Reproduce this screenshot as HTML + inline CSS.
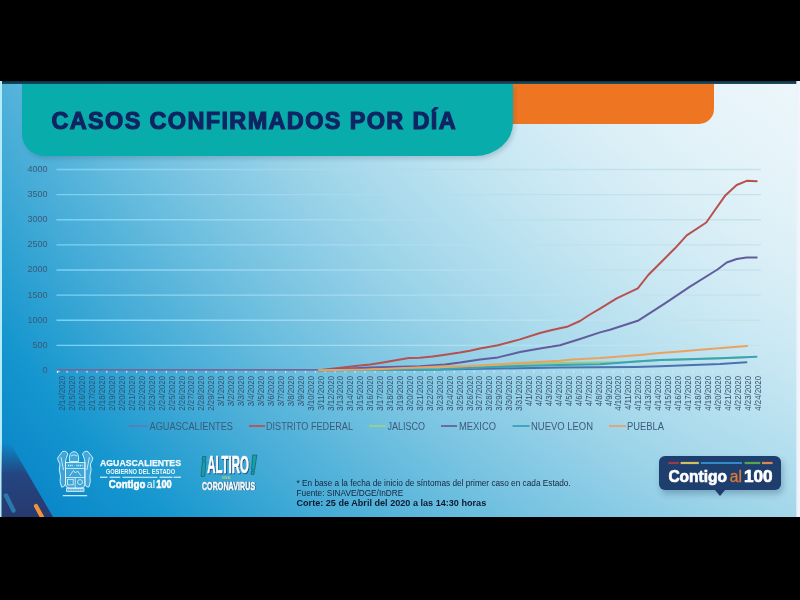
<!DOCTYPE html>
<html><head><meta charset="utf-8">
<style>
html,body{margin:0;padding:0;background:#000;width:800px;height:600px;overflow:hidden}
body{position:relative;font-family:"Liberation Sans",sans-serif}
.slide{position:absolute;left:0;top:81px;width:800px;height:436px;overflow:hidden;filter:blur(0.35px);
background:radial-gradient(circle at 1350px -781px,rgb(237,246,251) 950px,rgb(233,245,250) 1000px,rgb(228,243,249) 1050px,rgb(221,240,247) 1100px,rgb(212,236,245) 1150px,rgb(201,232,243) 1200px,rgb(188,226,240) 1250px,rgb(174,220,237) 1300px,rgb(159,213,233) 1350px,rgb(142,205,230) 1400px,rgb(124,197,226) 1450px,rgb(105,189,222) 1500px,rgb(85,179,218) 1550px,rgb(65,170,214) 1600px,rgb(43,160,210) 1650px,rgb(21,150,207) 1700px,rgb(0,121,195) 1850px)}
.topband{position:absolute;left:0;top:0;width:800px;height:3px;background:linear-gradient(to bottom,rgba(10,40,54,.97),rgba(12,70,95,.93))}
.ledge{position:absolute;left:0;top:0;width:1.5px;height:436px;background:#b4ecfa}
.redge{position:absolute;left:796px;top:0;width:4px;height:436px;background:linear-gradient(to right,rgba(238,243,251,.5),#eef3fb 40%,#f3f5fc)}
.orange{position:absolute;left:470px;top:3px;width:244px;height:40px;background:#ee7622;border-bottom-right-radius:15px}
.teal{position:absolute;left:21.5px;top:3px;width:491px;height:71.5px;background:#08adab;border-bottom-left-radius:22px;border-bottom-right-radius:38px 33px;box-shadow:2px 3px 4px rgba(40,60,90,.18)}
.title{position:absolute;left:51.4px;top:28.9px;font-weight:bold;font-size:23.5px;letter-spacing:1.34px;-webkit-text-stroke:1.1px #0f2462;color:#0f2462;white-space:nowrap;line-height:1}
svg text{font-family:"Liberation Sans",sans-serif}
.g{stroke:url(#gl);stroke-width:1.3}
.yl{font-size:9px;fill:#3a5a78;text-anchor:end}
.xl{font-size:8.5px;fill:#34506c;text-anchor:end}
.tk{fill:#cfeefa}
.tk2{fill:none;stroke:#e8f8ff;stroke-width:1.2}
.s{fill:none;stroke-width:2;stroke-linejoin:round;stroke-linecap:round}
.lg{font-size:10px;fill:#3d5a78}
.fn{position:absolute;left:296.5px;font-size:8.25px;color:#15253e;white-space:nowrap;line-height:1}
.fnb{font-weight:bold;font-size:9.1px;color:#0c1a30}
.badge{position:absolute;left:658.8px;top:375px;width:122.5px;height:34.3px;background:#1e3e6e;border-radius:6px;box-shadow:2px 4px 6px rgba(30,60,100,.3)}
</style></head><body>
<div class="slide">
  <div class="orange"></div>
  <div class="teal"></div>
  <div class="title">CASOS CONFIRMADOS POR DÍA</div>
  <div class="topband"></div>
  <div class="ledge"></div>
  <div class="redge"></div>
  <svg width="800" height="436" style="position:absolute;left:0;top:0" viewBox="0 81 800 436">
  <defs>
    <linearGradient id="gl" gradientUnits="userSpaceOnUse" x1="57" y1="0" x2="761" y2="0">
      <stop offset="0.000" stop-color="rgb(121,208,246)"/>
      <stop offset="0.132" stop-color="rgb(138,213,244)"/>
      <stop offset="0.359" stop-color="rgb(161,217,239)"/>
      <stop offset="0.615" stop-color="rgb(181,224,239)"/>
      <stop offset="0.800" stop-color="rgb(193,226,237)"/>
      <stop offset="1.000" stop-color="rgb(200,225,235)"/>
    </linearGradient>
    <linearGradient id="nv" x1="0" y1="0" x2="0" y2="1">
      <stop offset="0" stop-color="#25407a" stop-opacity="0"/>
      <stop offset="0.2" stop-color="#25407a" stop-opacity="0.45"/>
      <stop offset="0.42" stop-color="#26407a" stop-opacity="0.92"/>
      <stop offset="1" stop-color="#27396f" stop-opacity="1"/>
    </linearGradient>
  </defs>
<line x1="56.5" x2="761" y1="345.38" y2="345.38" class="g"/>
<line x1="56.5" x2="761" y1="320.25" y2="320.25" class="g"/>
<line x1="56.5" x2="761" y1="295.12" y2="295.12" class="g"/>
<line x1="56.5" x2="761" y1="270.00" y2="270.00" class="g"/>
<line x1="56.5" x2="761" y1="244.88" y2="244.88" class="g"/>
<line x1="56.5" x2="761" y1="219.75" y2="219.75" class="g"/>
<line x1="56.5" x2="761" y1="194.62" y2="194.62" class="g"/>
<line x1="56.5" x2="761" y1="169.50" y2="169.50" class="g"/>
<text x="47.5" y="372.90" class="yl">0</text>
<text x="47.5" y="347.77" class="yl">500</text>
<text x="47.5" y="322.65" class="yl">1000</text>
<text x="47.5" y="297.52" class="yl">1500</text>
<text x="47.5" y="272.40" class="yl">2000</text>
<text x="47.5" y="247.28" class="yl">2500</text>
<text x="47.5" y="222.15" class="yl">3000</text>
<text x="47.5" y="197.03" class="yl">3500</text>
<text x="47.5" y="171.90" class="yl">4000</text>
<rect x="66.5" y="370.6" width="1.2" height="2" class="tk"/>
<rect x="76.5" y="370.6" width="1.2" height="2" class="tk"/>
<rect x="86.4" y="370.6" width="1.2" height="2" class="tk"/>
<rect x="96.3" y="370.6" width="1.2" height="2" class="tk"/>
<rect x="106.2" y="370.6" width="1.2" height="2" class="tk"/>
<rect x="116.2" y="370.6" width="1.2" height="2" class="tk"/>
<rect x="126.1" y="370.6" width="1.2" height="2" class="tk"/>
<rect x="136.0" y="370.6" width="1.2" height="2" class="tk"/>
<rect x="146.0" y="370.6" width="1.2" height="2" class="tk"/>
<rect x="155.9" y="370.6" width="1.2" height="2" class="tk"/>
<rect x="165.8" y="370.6" width="1.2" height="2" class="tk"/>
<rect x="175.8" y="370.6" width="1.2" height="2" class="tk"/>
<rect x="185.7" y="370.6" width="1.2" height="2" class="tk"/>
<rect x="195.6" y="370.6" width="1.2" height="2" class="tk"/>
<rect x="205.5" y="370.6" width="1.2" height="2" class="tk"/>
<rect x="215.5" y="370.6" width="1.2" height="2" class="tk"/>
<rect x="225.4" y="370.6" width="1.2" height="2" class="tk"/>
<rect x="235.3" y="370.6" width="1.2" height="2" class="tk"/>
<rect x="245.3" y="370.6" width="1.2" height="2" class="tk"/>
<rect x="255.2" y="370.6" width="1.2" height="2" class="tk"/>
<rect x="265.1" y="370.6" width="1.2" height="2" class="tk"/>
<rect x="275.1" y="370.6" width="1.2" height="2" class="tk"/>
<rect x="285.0" y="370.6" width="1.2" height="2" class="tk"/>
<rect x="294.9" y="370.6" width="1.2" height="2" class="tk"/>
<rect x="304.9" y="370.6" width="1.2" height="2" class="tk"/>
<rect x="314.8" y="370.6" width="1.2" height="2" class="tk"/>
<rect x="324.7" y="370.6" width="1.2" height="2" class="tk"/>
<rect x="334.6" y="370.6" width="1.2" height="2" class="tk"/>
<rect x="344.6" y="370.6" width="1.2" height="2" class="tk"/>
<rect x="354.5" y="370.6" width="1.2" height="2" class="tk"/>
<rect x="364.4" y="370.6" width="1.2" height="2" class="tk"/>
<rect x="374.4" y="370.6" width="1.2" height="2" class="tk"/>
<rect x="384.3" y="370.6" width="1.2" height="2" class="tk"/>
<rect x="394.2" y="370.6" width="1.2" height="2" class="tk"/>
<rect x="404.2" y="370.6" width="1.2" height="2" class="tk"/>
<rect x="414.1" y="370.6" width="1.2" height="2" class="tk"/>
<rect x="424.0" y="370.6" width="1.2" height="2" class="tk"/>
<rect x="433.9" y="370.6" width="1.2" height="2" class="tk"/>
<rect x="443.9" y="370.6" width="1.2" height="2" class="tk"/>
<rect x="453.8" y="370.6" width="1.2" height="2" class="tk"/>
<rect x="463.7" y="370.6" width="1.2" height="2" class="tk"/>
<rect x="473.7" y="370.6" width="1.2" height="2" class="tk"/>
<rect x="483.6" y="370.6" width="1.2" height="2" class="tk"/>
<rect x="493.5" y="370.6" width="1.2" height="2" class="tk"/>
<rect x="503.4" y="370.6" width="1.2" height="2" class="tk"/>
<rect x="513.4" y="370.6" width="1.2" height="2" class="tk"/>
<rect x="523.3" y="370.6" width="1.2" height="2" class="tk"/>
<rect x="533.2" y="370.6" width="1.2" height="2" class="tk"/>
<rect x="543.2" y="370.6" width="1.2" height="2" class="tk"/>
<rect x="553.1" y="370.6" width="1.2" height="2" class="tk"/>
<rect x="563.0" y="370.6" width="1.2" height="2" class="tk"/>
<rect x="573.0" y="370.6" width="1.2" height="2" class="tk"/>
<rect x="582.9" y="370.6" width="1.2" height="2" class="tk"/>
<rect x="592.8" y="370.6" width="1.2" height="2" class="tk"/>
<rect x="602.8" y="370.6" width="1.2" height="2" class="tk"/>
<rect x="612.7" y="370.6" width="1.2" height="2" class="tk"/>
<rect x="622.6" y="370.6" width="1.2" height="2" class="tk"/>
<rect x="632.5" y="370.6" width="1.2" height="2" class="tk"/>
<rect x="642.5" y="370.6" width="1.2" height="2" class="tk"/>
<rect x="652.4" y="370.6" width="1.2" height="2" class="tk"/>
<rect x="662.3" y="370.6" width="1.2" height="2" class="tk"/>
<rect x="672.3" y="370.6" width="1.2" height="2" class="tk"/>
<rect x="682.2" y="370.6" width="1.2" height="2" class="tk"/>
<rect x="692.1" y="370.6" width="1.2" height="2" class="tk"/>
<rect x="702.0" y="370.6" width="1.2" height="2" class="tk"/>
<rect x="712.0" y="370.6" width="1.2" height="2" class="tk"/>
<rect x="721.9" y="370.6" width="1.2" height="2" class="tk"/>
<rect x="731.8" y="370.6" width="1.2" height="2" class="tk"/>
<rect x="741.8" y="370.6" width="1.2" height="2" class="tk"/>
<rect x="751.7" y="370.6" width="1.2" height="2" class="tk"/>
<rect x="761.6" y="370.6" width="1.2" height="2" class="tk"/>
<path d="M57.5 373 V370.8 H60" class="tk2"/>
<line x1="57" x2="322" y1="369.9" y2="369.9" stroke="#74679a" stroke-width="1.6"/>
<polyline points="318.8,370.3 440.0,369.5 560.0,367.6 635.0,366.9 660.0,366.2 680.0,365.4 720.0,363.9 746.4,362.2" class="s" stroke="#4a72ad"/>
<polyline points="318.8,370.3 360.0,365.6 370.0,364.4 380.0,362.9 408.8,358.1 420.0,357.8 432.5,356.5 440.0,355.4 460.0,352.6 470.0,350.8 480.0,348.6 498.0,345.2 520.0,339.4 540.0,333.0 552.0,330.0 568.0,326.4 580.0,321.0 590.0,314.5 600.0,308.6 616.7,298.3 637.8,288.3 648.3,275.0 675.0,248.3 686.7,235.3 706.3,222.5 715.0,210.0 725.0,195.8 736.7,185.0 746.7,180.8 756.7,181.3" class="s" stroke="#b8504f"/>
<polyline points="318.8,370.3 400.0,369.2 470.0,367.8 520.0,364.3 560.0,363.1 600.0,362.6 622.5,362.2 640.0,361.3 660.0,360.1 680.0,359.6 720.0,358.3 745.0,357.3" class="s" stroke="#93cc86"/>
<polyline points="318.8,370.3 370.0,367.5 420.0,366.2 445.0,364.6 460.0,362.6 470.0,361.0 480.0,359.6 498.0,357.4 520.0,352.0 540.0,348.4 552.0,346.6 560.0,345.2 580.0,339.0 600.0,332.4 610.0,329.7 620.0,326.5 637.8,320.8 665.0,303.3 690.0,286.7 717.5,269.5 726.7,262.5 736.7,259.0 746.7,257.5 756.7,257.5" class="s" stroke="#625c9c"/>
<polyline points="318.8,370.3 440.0,369.2 520.0,366.0 560.0,365.0 600.0,364.2 640.0,361.2 660.0,360.0 680.0,359.5 720.0,358.2 745.0,357.2 756.5,356.8" class="s" stroke="#3aa4b5"/>
<polyline points="318.8,370.3 370.0,369.4 440.0,366.6 470.0,366.0 520.0,362.9 560.0,360.8 572.5,359.4 600.0,358.0 640.0,355.0 660.0,353.1 680.0,351.4 700.0,349.8 747.0,346.0" class="s" stroke="#eaa262"/>
<text transform="translate(65.40,376) rotate(-90)" class="xl" textLength="34.70" lengthAdjust="spacingAndGlyphs">2/14/2020</text>
<text transform="translate(75.33,376) rotate(-90)" class="xl" textLength="34.70" lengthAdjust="spacingAndGlyphs">2/15/2020</text>
<text transform="translate(85.26,376) rotate(-90)" class="xl" textLength="34.70" lengthAdjust="spacingAndGlyphs">2/16/2020</text>
<text transform="translate(95.19,376) rotate(-90)" class="xl" textLength="34.70" lengthAdjust="spacingAndGlyphs">2/17/2020</text>
<text transform="translate(105.12,376) rotate(-90)" class="xl" textLength="34.70" lengthAdjust="spacingAndGlyphs">2/18/2020</text>
<text transform="translate(115.05,376) rotate(-90)" class="xl" textLength="34.70" lengthAdjust="spacingAndGlyphs">2/19/2020</text>
<text transform="translate(124.98,376) rotate(-90)" class="xl" textLength="34.70" lengthAdjust="spacingAndGlyphs">2/20/2020</text>
<text transform="translate(134.91,376) rotate(-90)" class="xl" textLength="34.70" lengthAdjust="spacingAndGlyphs">2/21/2020</text>
<text transform="translate(144.84,376) rotate(-90)" class="xl" textLength="34.70" lengthAdjust="spacingAndGlyphs">2/22/2020</text>
<text transform="translate(154.77,376) rotate(-90)" class="xl" textLength="34.70" lengthAdjust="spacingAndGlyphs">2/23/2020</text>
<text transform="translate(164.70,376) rotate(-90)" class="xl" textLength="34.70" lengthAdjust="spacingAndGlyphs">2/24/2020</text>
<text transform="translate(174.63,376) rotate(-90)" class="xl" textLength="34.70" lengthAdjust="spacingAndGlyphs">2/25/2020</text>
<text transform="translate(184.56,376) rotate(-90)" class="xl" textLength="34.70" lengthAdjust="spacingAndGlyphs">2/26/2020</text>
<text transform="translate(194.49,376) rotate(-90)" class="xl" textLength="34.70" lengthAdjust="spacingAndGlyphs">2/27/2020</text>
<text transform="translate(204.42,376) rotate(-90)" class="xl" textLength="34.70" lengthAdjust="spacingAndGlyphs">2/28/2020</text>
<text transform="translate(214.35,376) rotate(-90)" class="xl" textLength="34.70" lengthAdjust="spacingAndGlyphs">2/29/2020</text>
<text transform="translate(224.28,376) rotate(-90)" class="xl" textLength="30.36" lengthAdjust="spacingAndGlyphs">3/1/2020</text>
<text transform="translate(234.21,376) rotate(-90)" class="xl" textLength="30.36" lengthAdjust="spacingAndGlyphs">3/2/2020</text>
<text transform="translate(244.14,376) rotate(-90)" class="xl" textLength="30.36" lengthAdjust="spacingAndGlyphs">3/3/2020</text>
<text transform="translate(254.07,376) rotate(-90)" class="xl" textLength="30.36" lengthAdjust="spacingAndGlyphs">3/4/2020</text>
<text transform="translate(264.00,376) rotate(-90)" class="xl" textLength="30.36" lengthAdjust="spacingAndGlyphs">3/5/2020</text>
<text transform="translate(273.93,376) rotate(-90)" class="xl" textLength="30.36" lengthAdjust="spacingAndGlyphs">3/6/2020</text>
<text transform="translate(283.86,376) rotate(-90)" class="xl" textLength="30.36" lengthAdjust="spacingAndGlyphs">3/7/2020</text>
<text transform="translate(293.79,376) rotate(-90)" class="xl" textLength="30.36" lengthAdjust="spacingAndGlyphs">3/8/2020</text>
<text transform="translate(303.72,376) rotate(-90)" class="xl" textLength="30.36" lengthAdjust="spacingAndGlyphs">3/9/2020</text>
<text transform="translate(313.65,376) rotate(-90)" class="xl" textLength="34.70" lengthAdjust="spacingAndGlyphs">3/10/2020</text>
<text transform="translate(323.58,376) rotate(-90)" class="xl" textLength="34.12" lengthAdjust="spacingAndGlyphs">3/11/2020</text>
<text transform="translate(333.51,376) rotate(-90)" class="xl" textLength="34.70" lengthAdjust="spacingAndGlyphs">3/12/2020</text>
<text transform="translate(343.44,376) rotate(-90)" class="xl" textLength="34.70" lengthAdjust="spacingAndGlyphs">3/13/2020</text>
<text transform="translate(353.37,376) rotate(-90)" class="xl" textLength="34.70" lengthAdjust="spacingAndGlyphs">3/14/2020</text>
<text transform="translate(363.30,376) rotate(-90)" class="xl" textLength="34.70" lengthAdjust="spacingAndGlyphs">3/15/2020</text>
<text transform="translate(373.23,376) rotate(-90)" class="xl" textLength="34.70" lengthAdjust="spacingAndGlyphs">3/16/2020</text>
<text transform="translate(383.16,376) rotate(-90)" class="xl" textLength="34.70" lengthAdjust="spacingAndGlyphs">3/17/2020</text>
<text transform="translate(393.09,376) rotate(-90)" class="xl" textLength="34.70" lengthAdjust="spacingAndGlyphs">3/18/2020</text>
<text transform="translate(403.02,376) rotate(-90)" class="xl" textLength="34.70" lengthAdjust="spacingAndGlyphs">3/19/2020</text>
<text transform="translate(412.95,376) rotate(-90)" class="xl" textLength="34.70" lengthAdjust="spacingAndGlyphs">3/20/2020</text>
<text transform="translate(422.88,376) rotate(-90)" class="xl" textLength="34.70" lengthAdjust="spacingAndGlyphs">3/21/2020</text>
<text transform="translate(432.81,376) rotate(-90)" class="xl" textLength="34.70" lengthAdjust="spacingAndGlyphs">3/22/2020</text>
<text transform="translate(442.74,376) rotate(-90)" class="xl" textLength="34.70" lengthAdjust="spacingAndGlyphs">3/23/2020</text>
<text transform="translate(452.67,376) rotate(-90)" class="xl" textLength="34.70" lengthAdjust="spacingAndGlyphs">3/24/2020</text>
<text transform="translate(462.60,376) rotate(-90)" class="xl" textLength="34.70" lengthAdjust="spacingAndGlyphs">3/25/2020</text>
<text transform="translate(472.53,376) rotate(-90)" class="xl" textLength="34.70" lengthAdjust="spacingAndGlyphs">3/26/2020</text>
<text transform="translate(482.46,376) rotate(-90)" class="xl" textLength="34.70" lengthAdjust="spacingAndGlyphs">3/27/2020</text>
<text transform="translate(492.39,376) rotate(-90)" class="xl" textLength="34.70" lengthAdjust="spacingAndGlyphs">3/28/2020</text>
<text transform="translate(502.32,376) rotate(-90)" class="xl" textLength="34.70" lengthAdjust="spacingAndGlyphs">3/29/2020</text>
<text transform="translate(512.25,376) rotate(-90)" class="xl" textLength="34.70" lengthAdjust="spacingAndGlyphs">3/30/2020</text>
<text transform="translate(522.18,376) rotate(-90)" class="xl" textLength="34.70" lengthAdjust="spacingAndGlyphs">3/31/2020</text>
<text transform="translate(532.11,376) rotate(-90)" class="xl" textLength="30.36" lengthAdjust="spacingAndGlyphs">4/1/2020</text>
<text transform="translate(542.04,376) rotate(-90)" class="xl" textLength="30.36" lengthAdjust="spacingAndGlyphs">4/2/2020</text>
<text transform="translate(551.97,376) rotate(-90)" class="xl" textLength="30.36" lengthAdjust="spacingAndGlyphs">4/3/2020</text>
<text transform="translate(561.90,376) rotate(-90)" class="xl" textLength="30.36" lengthAdjust="spacingAndGlyphs">4/4/2020</text>
<text transform="translate(571.83,376) rotate(-90)" class="xl" textLength="30.36" lengthAdjust="spacingAndGlyphs">4/5/2020</text>
<text transform="translate(581.76,376) rotate(-90)" class="xl" textLength="30.36" lengthAdjust="spacingAndGlyphs">4/6/2020</text>
<text transform="translate(591.69,376) rotate(-90)" class="xl" textLength="30.36" lengthAdjust="spacingAndGlyphs">4/7/2020</text>
<text transform="translate(601.62,376) rotate(-90)" class="xl" textLength="30.36" lengthAdjust="spacingAndGlyphs">4/8/2020</text>
<text transform="translate(611.55,376) rotate(-90)" class="xl" textLength="30.36" lengthAdjust="spacingAndGlyphs">4/9/2020</text>
<text transform="translate(621.48,376) rotate(-90)" class="xl" textLength="34.70" lengthAdjust="spacingAndGlyphs">4/10/2020</text>
<text transform="translate(631.41,376) rotate(-90)" class="xl" textLength="34.12" lengthAdjust="spacingAndGlyphs">4/11/2020</text>
<text transform="translate(641.34,376) rotate(-90)" class="xl" textLength="34.70" lengthAdjust="spacingAndGlyphs">4/12/2020</text>
<text transform="translate(651.27,376) rotate(-90)" class="xl" textLength="34.70" lengthAdjust="spacingAndGlyphs">4/13/2020</text>
<text transform="translate(661.20,376) rotate(-90)" class="xl" textLength="34.70" lengthAdjust="spacingAndGlyphs">4/14/2020</text>
<text transform="translate(671.13,376) rotate(-90)" class="xl" textLength="34.70" lengthAdjust="spacingAndGlyphs">4/15/2020</text>
<text transform="translate(681.06,376) rotate(-90)" class="xl" textLength="34.70" lengthAdjust="spacingAndGlyphs">4/16/2020</text>
<text transform="translate(690.99,376) rotate(-90)" class="xl" textLength="34.70" lengthAdjust="spacingAndGlyphs">4/17/2020</text>
<text transform="translate(700.92,376) rotate(-90)" class="xl" textLength="34.70" lengthAdjust="spacingAndGlyphs">4/18/2020</text>
<text transform="translate(710.85,376) rotate(-90)" class="xl" textLength="34.70" lengthAdjust="spacingAndGlyphs">4/19/2020</text>
<text transform="translate(720.78,376) rotate(-90)" class="xl" textLength="34.70" lengthAdjust="spacingAndGlyphs">4/20/2020</text>
<text transform="translate(730.71,376) rotate(-90)" class="xl" textLength="34.70" lengthAdjust="spacingAndGlyphs">4/21/2020</text>
<text transform="translate(740.64,376) rotate(-90)" class="xl" textLength="34.70" lengthAdjust="spacingAndGlyphs">4/22/2020</text>
<text transform="translate(750.57,376) rotate(-90)" class="xl" textLength="34.70" lengthAdjust="spacingAndGlyphs">4/23/2020</text>
<text transform="translate(760.50,376) rotate(-90)" class="xl" textLength="34.70" lengthAdjust="spacingAndGlyphs">4/24/2020</text>
<line x1="129" x2="147.5" y1="426" y2="426" stroke="#5b7db6" stroke-width="1.8"/>
<text x="149.5" y="429.6" class="lg" textLength="83.5" lengthAdjust="spacingAndGlyphs">AGUASCALIENTES</text>
<line x1="249" x2="265" y1="426" y2="426" stroke="#c0504d" stroke-width="1.8"/>
<text x="266" y="429.6" class="lg" textLength="87" lengthAdjust="spacingAndGlyphs">DISTRITO FEDERAL</text>
<line x1="369" x2="386" y1="426" y2="426" stroke="#9bd18b" stroke-width="1.8"/>
<text x="387.5" y="429.6" class="lg" textLength="37.5" lengthAdjust="spacingAndGlyphs">JALISCO</text>
<line x1="441" x2="457" y1="426" y2="426" stroke="#6a5fa0" stroke-width="1.8"/>
<text x="459" y="429.6" class="lg" textLength="37" lengthAdjust="spacingAndGlyphs">MEXICO</text>
<line x1="512.5" x2="529.5" y1="426" y2="426" stroke="#3a9fc0" stroke-width="1.8"/>
<text x="531" y="429.6" class="lg" textLength="62" lengthAdjust="spacingAndGlyphs">NUEVO LEON</text>
<line x1="609" x2="626" y1="426" y2="426" stroke="#e9a070" stroke-width="1.8"/>
<text x="627" y="429.6" class="lg" textLength="37" lengthAdjust="spacingAndGlyphs">PUEBLA</text>
  <!-- bottom-left navy shape -->
  <polygon points="1.5,443 10,443 53,517 1.5,517" fill="url(#nv)"/>
  <line x1="6" y1="495.5" x2="13.5" y2="510.5" stroke="#2d83ba" stroke-width="4.4" stroke-linecap="round" opacity=".85"/>
  <line x1="36" y1="506" x2="42" y2="517" stroke="#f09238" stroke-width="4.2" stroke-linecap="round"/>
  <!-- coat of arms approx -->
  <g fill="rgba(225,245,255,0.22)" stroke="#e2f5fd" stroke-width="0.9" stroke-linejoin="round">
    <path d="M57.5 458 L62.5 451.5 Q66.5 450.5 67.8 454 L66.2 458.5 Q65 462 65.5 466 L65.5 484 Q64 488 61.5 487 Q59.3 482 60.5 476 Q58.3 470 60 464 Q58 461 57.5 458 Z"/>
    <path d="M92.9 458 L87.9 451.5 Q83.9 450.5 82.6 454 L84.2 458.5 Q85.4 462 84.9 466 L84.9 484 Q86.4 488 88.9 487 Q91.1 482 89.9 476 Q92.1 470 90.4 464 Q92.4 461 92.9 458 Z"/>
    <path d="M69.5 461.5 Q68.5 452 74 451.6 Q79.5 452 78.5 461.5 Z"/>
    <path d="M65.5 462.5 H84.9 V484.5 Q84.9 488 81 488 H69.5 Q65.5 488 65.5 484.5 Z"/>
    <path d="M66.5 488.4 H84 V491.4 H66.5 Z"/>
  </g>
  <g fill="none" stroke="#e2f5fd" stroke-width="0.8">
    <path d="M65.5 468.5 H84.9 M65.5 477.5 H84.9 M75.2 477.5 V488"/>
    <path d="M68 465.5 H73 M76.5 465.5 H82.5" stroke-width="1.4" stroke-dasharray="1 0.8"/>
    <path d="M69.5 476 L73.5 470.5 L75.5 473 L77.5 471 L81 476"/>
    <rect x="67.6" y="479.3" width="5.6" height="5.6"/>
    <circle cx="80" cy="482.1" r="2.5"/>
    <path d="M61 457 L63.5 470 M89.4 457 L86.9 470 M71 456 Q74 453.5 77 456"/>
    <path d="M68 490 H83" stroke-width="0.9" stroke-dasharray="1 0.7"/>
  </g>
  <line x1="62.8" y1="495.7" x2="87.2" y2="495.7" stroke="#e6f6fd" stroke-width="1.1"/>
  <!-- aguascalientes text -->
  <text x="100" y="466.2" font-size="9" font-weight="bold" fill="#f4fbff" stroke="#f4fbff" stroke-width="0.25" textLength="81" lengthAdjust="spacingAndGlyphs">AGUASCALIENTES</text>
  <text x="105.7" y="474" font-size="6.7" font-weight="bold" fill="#eef8fd" textLength="69.5" lengthAdjust="spacingAndGlyphs">GOBIERNO DEL ESTADO</text>
  <g stroke="#eef8fd" stroke-width="1.1">
    <line x1="100" y1="477.2" x2="107.4" y2="477.2"/>
    <line x1="109.6" y1="477.2" x2="120.3" y2="477.2"/>
    <line x1="122.5" y1="477.2" x2="157.4" y2="477.2"/>
    <line x1="159.6" y1="477.2" x2="172.5" y2="477.2"/>
    <line x1="173.6" y1="477.2" x2="181" y2="477.2"/>
  </g>
  <text x="108.7" y="488" font-size="11.2" font-weight="bold" fill="#ffffff" stroke="#ffffff" stroke-width="0.5" textLength="36.7" lengthAdjust="spacingAndGlyphs">Contigo</text>
  <text x="146.8" y="488" font-size="11.2" fill="#ffffff" textLength="8.2" lengthAdjust="spacingAndGlyphs">al</text>
  <text x="156.3" y="488" font-size="11.2" font-weight="bold" fill="#ffffff" stroke="#ffffff" stroke-width="0.5" textLength="15.4" lengthAdjust="spacingAndGlyphs">100</text>
  <!-- al tiro -->
  <g font-weight="bold">
  <g fill="#15a39f" stroke="#174a70" stroke-width="0.6" stroke-linejoin="round">
    <polygon points="202.6,456.6 206,456.6 205.5,460.2 202.1,460.2"/>
    <polygon points="202.4,461.8 206,461.8 204.6,476.4 201,476.4"/>
    <polygon points="252.6,455 256.9,455 254.6,470 251.6,470"/>
    <polygon points="251.4,471.2 254.4,471.2 254,474.4 251,474.4"/>
  </g>
  <text x="207.9" y="473.5" font-size="24.3" fill="#1d4a78" stroke="#1d4a78" stroke-width="0.6" textLength="41.8" lengthAdjust="spacingAndGlyphs">ALTIRO</text>
  <text x="207.2" y="472.8" font-size="24.3" fill="#ffffff" stroke="#ffffff" stroke-width="0.6" textLength="41.8" lengthAdjust="spacingAndGlyphs">ALTIRO</text>
  <text x="221.8" y="478.6" font-size="3.8" fill="#d9dc6a" textLength="9" lengthAdjust="spacingAndGlyphs">CON EL</text>
  <text x="202.5" y="490.4" font-size="11.8" fill="#1d4a78" stroke="#1d4a78" stroke-width="0.4" textLength="53.3" lengthAdjust="spacingAndGlyphs">CORONAVIRUS</text>
  <text x="201.9" y="489.8" font-size="11.8" fill="#ffffff" stroke="#ffffff" stroke-width="0.4" textLength="53.3" lengthAdjust="spacingAndGlyphs">CORONAVIRUS</text>
  </g>
  </svg>
  <div class="fn" style="top:398.9px">* En base a la fecha de inicio de síntomas del primer caso en cada Estado.</div>
  <div class="fn" style="top:409px">Fuente: SINAVE/DGE/InDRE</div>
  <div class="fn fnb" style="top:417.6px">Corte: 25 de Abril del 2020 a las 14:30 horas</div>
  <div class="badge"></div>
  <svg width="800" height="436" style="position:absolute;left:0;top:0" viewBox="0 81 800 436">
    <polygon points="715,490 725,490 720,496" fill="#1e3c6c"/>
    <g stroke-width="2.2">
      <line x1="668.4" x2="679" y1="463" y2="463" stroke="#9a3a4a"/>
      <line x1="680.6" x2="698.8" y1="463" y2="463" stroke="#d2c060"/>
      <line x1="700.8" x2="742" y1="463" y2="463" stroke="#3489cc"/>
      <line x1="744.6" x2="760.3" y1="463" y2="463" stroke="#5aa34e"/>
      <line x1="762" x2="772.6" y1="463" y2="463" stroke="#de8550"/>
    </g>
    <text x="668.4" y="481.8" font-size="17" font-weight="bold" fill="#ffffff" stroke="#ffffff" stroke-width="0.7" textLength="58.6" lengthAdjust="spacingAndGlyphs">Contigo</text>
    <text x="729.7" y="481.8" font-size="17" fill="#e07a35" stroke="#e07a35" stroke-width="0.3" textLength="12.3" lengthAdjust="spacingAndGlyphs">al</text>
    <text x="743.9" y="481.8" font-size="17" font-weight="bold" fill="#ffffff" stroke="#ffffff" stroke-width="0.7" textLength="28.6" lengthAdjust="spacingAndGlyphs">100</text>
  </svg>
</div>
</body></html>
